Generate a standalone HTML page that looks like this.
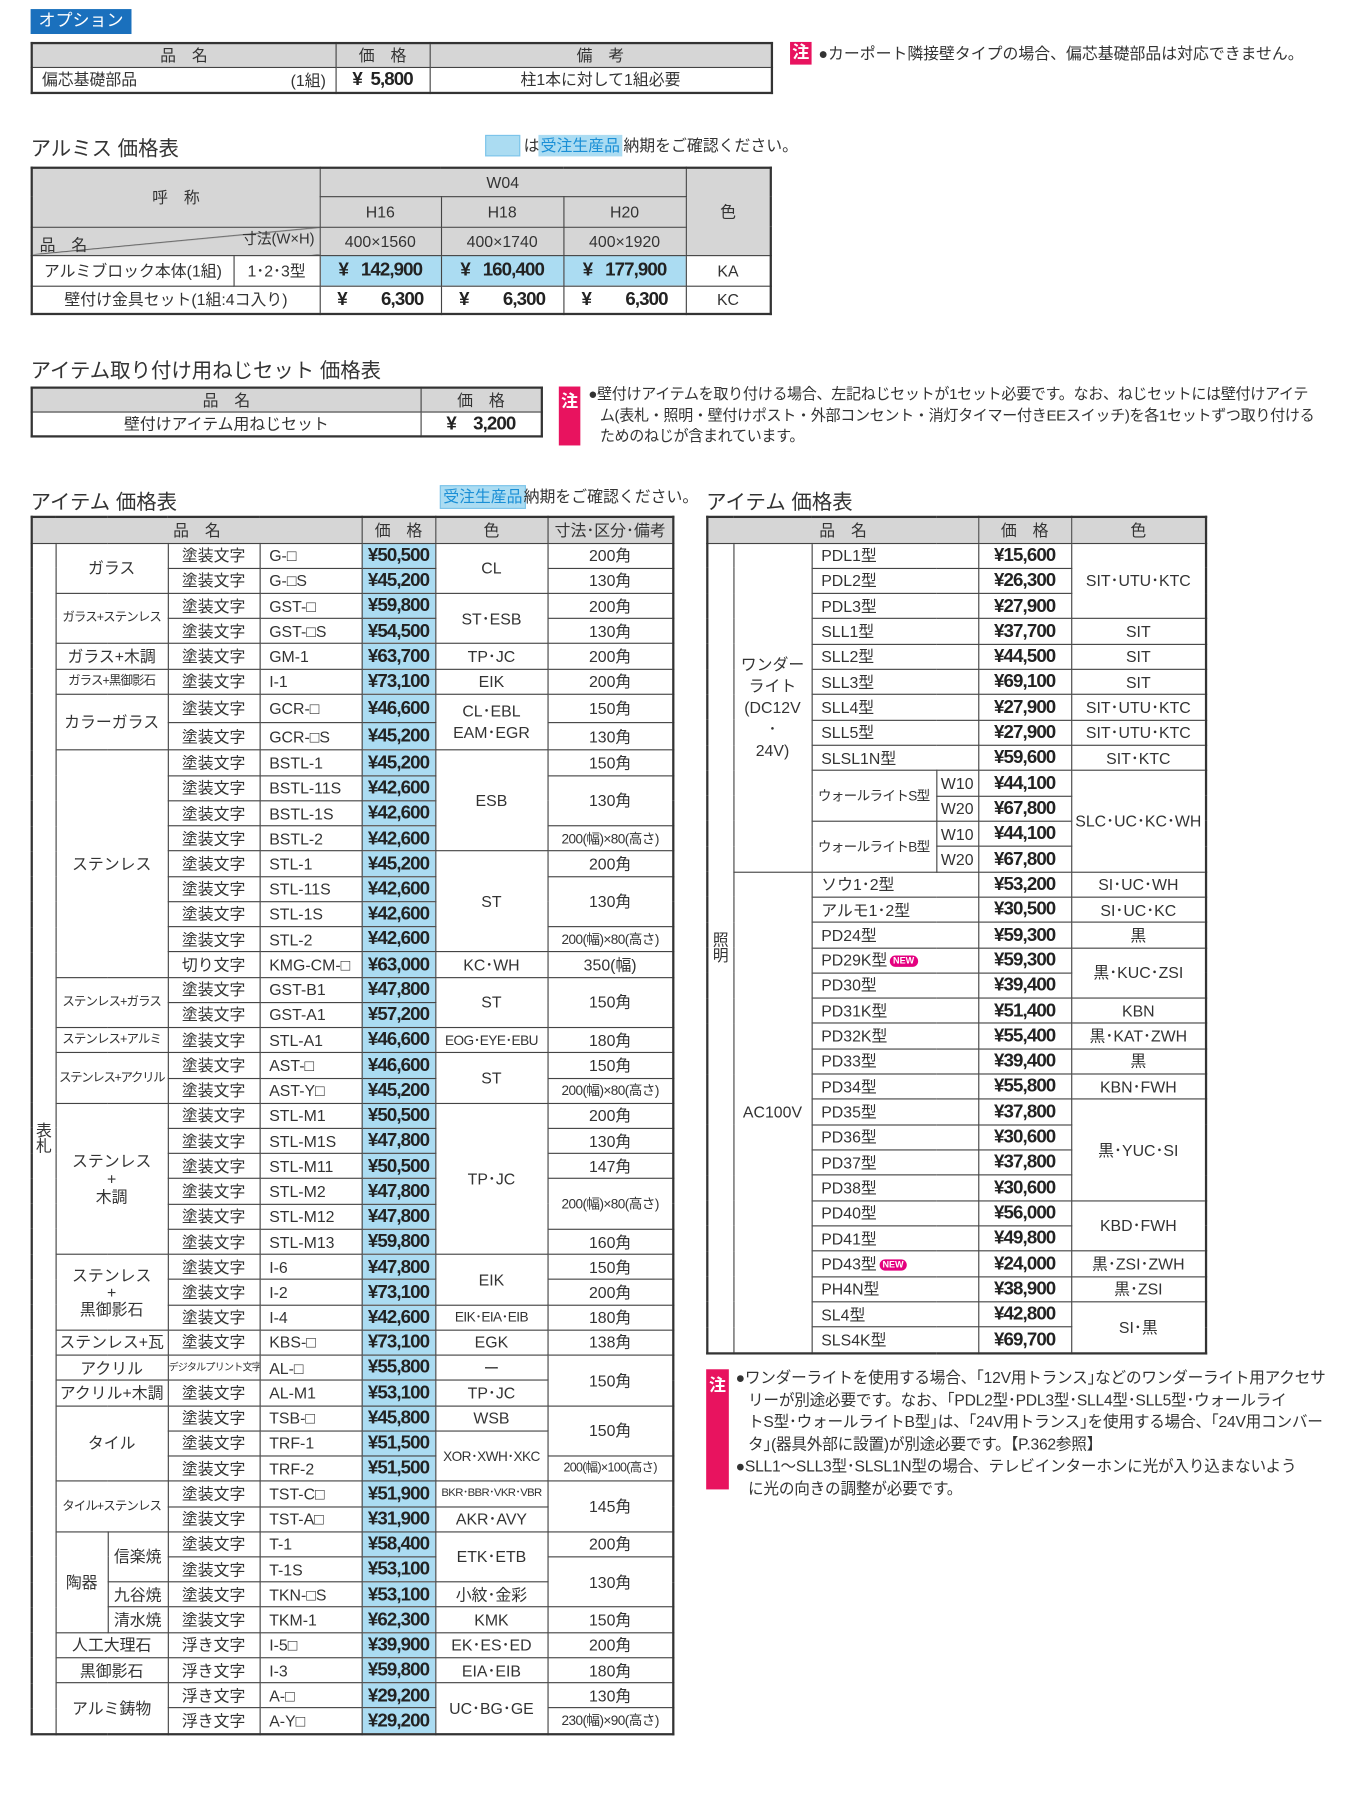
<!DOCTYPE html>
<html><head><meta charset="utf-8">
<style>
*{margin:0;padding:0;box-sizing:border-box}
html,body{width:1370px;height:1778px;background:#fff;overflow:hidden}
body{font-family:"Liberation Sans","Noto Sans CJK JP",sans-serif;color:#333}
#w{position:absolute;left:0;top:0;width:1222px;height:1586px;transform:scale(1.1335);transform-origin:0 0}
.a{position:absolute}
table{border-collapse:collapse;table-layout:fixed;position:absolute;border:2px solid #333}
td,th{border:1px solid #444;text-align:center;vertical-align:middle;font-size:14px;font-weight:normal;line-height:1;padding:0;white-space:nowrap;overflow:hidden}
th{background:#d6d6d6}
.p{font-weight:bold;font-size:16.5px;letter-spacing:-0.8px;color:#222}
.b{background:#abdcf2}
.l{text-align:left;padding-left:8px}
.t{font-size:18px;color:#333}
.pink{background:#e8135f;color:#fff;font-size:15px;font-weight:bold;text-align:center}
.n{font-size:14px;line-height:18.5px;color:#333;white-space:nowrap}
.new{display:inline-block;background:#e4007f;color:#fff;font-size:8px;font-weight:bold;border-radius:7px;padding:1px 3px;vertical-align:middle;margin-left:2px}
.sm{font-size:12px;letter-spacing:-0.5px}
.xs{font-size:11px;letter-spacing:-0.8px}
</style></head><body><div id="w">

<div class="a" style="left:27px;top:8px;width:89px;height:22px;background:#1a70bd;color:#fff;font-size:15px;line-height:22px;text-align:center">オプション</div>

<table style="left:27px;top:37px;width:655px;height:46px">
<colgroup><col style="width:268px"><col style="width:83px"><col></colgroup>
<tr style="height:21px"><th>品　名</th><th>価　格</th><th>備　考</th></tr>
<tr><td class="l" style="position:relative">偏芯基礎部品<span style="position:absolute;right:8px;top:4px">(1組)</span></td><td class="p">¥&nbsp; 5,800</td><td>柱1本に対して1組必要</td></tr>
</table>
<div class="a pink" style="left:697px;top:37px;width:19px;height:20px;line-height:20px">注</div>
<div class="a n" style="left:722px;top:38px">●カーポート隣接壁タイプの場合、偏芯基礎部品は対応できません。</div>

<div class="a t" style="left:27px;top:117px">アルミス 価格表</div>
<div class="a" style="left:428px;top:119px;width:31px;height:19px;background:#abdcf2;border:1px solid #7cc4ea"></div>
<div class="a n" style="left:462px;top:119px">は</div>
<div class="a n" style="left:475px;top:119px;background:#abdcf2;color:#1a8fd6;padding:0 2px">受注生産品</div>
<div class="a n" style="left:550px;top:119px">納期をご確認ください。</div>

<table style="left:27px;top:147px;width:654px;height:131px">
<colgroup><col style="width:178px"><col style="width:76px"><col style="width:107px"><col style="width:108px"><col style="width:108px"><col></colgroup>
<tr style="height:25px"><th colspan="2" rowspan="2" style="border-bottom:1px solid #444">呼　称</th><th colspan="3">W04</th><th rowspan="3">色</th></tr>
<tr style="height:27px"><th>H16</th><th>H18</th><th>H20</th></tr>
<tr style="height:25px"><th colspan="2" style="position:relative;background:#d6d6d6 linear-gradient(to bottom right,transparent 49%,#444 50%,transparent 52%)"><span style="position:absolute;left:6px;bottom:2px">品　名</span><span style="position:absolute;right:4px;top:3px;font-size:13px">寸法(W×H)</span></th><th>400×1560</th><th>400×1740</th><th>400×1920</th></tr>
<tr style="height:27px"><td>アルミブロック本体(1組)</td><td>1･2･3型</td><td class="p b">¥&nbsp;&nbsp; 142,900</td><td class="p b">¥&nbsp;&nbsp; 160,400</td><td class="p b">¥&nbsp;&nbsp; 177,900</td><td>KA</td></tr>
<tr><td colspan="2">壁付け金具セット(1組:4コ入り)</td><td class="p">¥&nbsp;&nbsp;&nbsp;&nbsp;&nbsp;&nbsp;&nbsp; 6,300</td><td class="p">¥&nbsp;&nbsp;&nbsp;&nbsp;&nbsp;&nbsp;&nbsp; 6,300</td><td class="p">¥&nbsp;&nbsp;&nbsp;&nbsp;&nbsp;&nbsp;&nbsp; 6,300</td><td>KC</td></tr>
</table>

<div class="a t" style="left:27px;top:313px">アイテム取り付け用ねじセット 価格表</div>
<table style="left:27px;top:341px;width:452px;height:45px">
<colgroup><col style="width:343px"><col></colgroup>
<tr style="height:21px"><th>品　名</th><th>価　格</th></tr>
<tr><td>壁付けアイテム用ねじセット</td><td class="p">¥&nbsp;&nbsp;&nbsp; 3,200</td></tr>
</table>
<div class="a pink" style="left:493px;top:341px;width:19px;height:52px;padding-top:2px">注</div>
<div class="a n" style="left:519px;top:339px;font-size:13.3px;letter-spacing:-0.3px">●壁付けアイテムを取り付ける場合、左記ねじセットが1セット必要です。なお、ねじセットには壁付けアイテ<br>&nbsp;&nbsp;&nbsp;ム(表札・照明・壁付けポスト・外部コンセント・消灯タイマー付きEEスイッチ)を各1セットずつ取り付ける<br>&nbsp;&nbsp;&nbsp;ためのねじが含まれています。</div>

<div class="a t" style="left:27px;top:429px">アイテム 価格表</div>
<div class="a n" style="left:388px;top:428px;background:#abdcf2;color:#1a8fd6;padding:0 2px;border:1px solid #7cc4ea">受注生産品</div>
<div class="a n" style="left:462px;top:429px">納期をご確認ください。</div>

<table style="left:27px;top:455px;width:568px;height:1076px">
<colgroup><col style="width:21px"><col style="width:46px"><col style="width:53px"><col style="width:81px"><col style="width:90px"><col style="width:65px"><col style="width:99px"><col></colgroup>
<tr style="height:23px"><th colspan="5">品　名</th><th>価　格</th><th>色</th><th>寸法･区分･備考</th></tr>
<tr><td rowspan="47" style="line-height:14px">表<br>札</td><td colspan="2" rowspan="2">ガラス</td><td>塗装文字</td><td class="l">G-□</td><td class="p b">¥50,500</td><td rowspan="2">CL</td><td>200角</td></tr>
<tr><td>塗装文字</td><td class="l">G-□S</td><td class="p b">¥45,200</td><td>130角</td></tr>
<tr><td colspan="2" rowspan="2" class="xs">ガラス+ステンレス</td><td>塗装文字</td><td class="l">GST-□</td><td class="p b">¥59,800</td><td rowspan="2">ST･ESB</td><td>200角</td></tr>
<tr><td>塗装文字</td><td class="l">GST-□S</td><td class="p b">¥54,500</td><td>130角</td></tr>
<tr><td colspan="2">ガラス+木調</td><td>塗装文字</td><td class="l">GM-1</td><td class="p b">¥63,700</td><td>TP･JC</td><td>200角</td></tr>
<tr><td colspan="2" class="xs">ガラス+黒御影石</td><td>塗装文字</td><td class="l">I-1</td><td class="p b">¥73,100</td><td>EIK</td><td>200角</td></tr>
<tr><td colspan="2" rowspan="2">カラーガラス</td><td>塗装文字</td><td class="l">GCR-□</td><td class="p b">¥46,600</td><td rowspan="2" style="line-height:19px">CL･EBL<br>EAM･EGR</td><td>150角</td></tr>
<tr><td>塗装文字</td><td class="l">GCR-□S</td><td class="p b">¥45,200</td><td>130角</td></tr>
<tr><td colspan="2" rowspan="9">ステンレス</td><td>塗装文字</td><td class="l">BSTL-1</td><td class="p b">¥45,200</td><td rowspan="4">ESB</td><td>150角</td></tr>
<tr><td>塗装文字</td><td class="l">BSTL-11S</td><td class="p b">¥42,600</td><td rowspan="2">130角</td></tr>
<tr><td>塗装文字</td><td class="l">BSTL-1S</td><td class="p b">¥42,600</td></tr>
<tr><td>塗装文字</td><td class="l">BSTL-2</td><td class="p b">¥42,600</td><td class="sm">200(幅)×80(高さ)</td></tr>
<tr><td>塗装文字</td><td class="l">STL-1</td><td class="p b">¥45,200</td><td rowspan="4">ST</td><td>200角</td></tr>
<tr><td>塗装文字</td><td class="l">STL-11S</td><td class="p b">¥42,600</td><td rowspan="2">130角</td></tr>
<tr><td>塗装文字</td><td class="l">STL-1S</td><td class="p b">¥42,600</td></tr>
<tr><td>塗装文字</td><td class="l">STL-2</td><td class="p b">¥42,600</td><td class="sm">200(幅)×80(高さ)</td></tr>
<tr><td>切り文字</td><td class="l">KMG-CM-□</td><td class="p b">¥63,000</td><td>KC･WH</td><td>350(幅)</td></tr>
<tr><td colspan="2" rowspan="2" class="xs">ステンレス+ガラス</td><td>塗装文字</td><td class="l">GST-B1</td><td class="p b">¥47,800</td><td rowspan="2">ST</td><td rowspan="2">150角</td></tr>
<tr><td>塗装文字</td><td class="l">GST-A1</td><td class="p b">¥57,200</td></tr>
<tr><td colspan="2" class="xs">ステンレス+アルミ</td><td>塗装文字</td><td class="l">STL-A1</td><td class="p b">¥46,600</td><td class="sm">EOG･EYE･EBU</td><td>180角</td></tr>
<tr><td colspan="2" rowspan="2" class="xs" style="letter-spacing:-1.2px">ステンレス+アクリル</td><td>塗装文字</td><td class="l">AST-□</td><td class="p b">¥46,600</td><td rowspan="2">ST</td><td>150角</td></tr>
<tr><td>塗装文字</td><td class="l">AST-Y□</td><td class="p b">¥45,200</td><td class="sm">200(幅)×80(高さ)</td></tr>
<tr><td colspan="2" rowspan="6" style="line-height:16px">ステンレス<br>+<br>木調</td><td>塗装文字</td><td class="l">STL-M1</td><td class="p b">¥50,500</td><td rowspan="6">TP･JC</td><td>200角</td></tr>
<tr><td>塗装文字</td><td class="l">STL-M1S</td><td class="p b">¥47,800</td><td>130角</td></tr>
<tr><td>塗装文字</td><td class="l">STL-M11</td><td class="p b">¥50,500</td><td>147角</td></tr>
<tr><td>塗装文字</td><td class="l">STL-M2</td><td class="p b">¥47,800</td><td rowspan="2" class="sm">200(幅)×80(高さ)</td></tr>
<tr><td>塗装文字</td><td class="l">STL-M12</td><td class="p b">¥47,800</td></tr>
<tr><td>塗装文字</td><td class="l">STL-M13</td><td class="p b">¥59,800</td><td>160角</td></tr>
<tr><td colspan="2" rowspan="3" style="line-height:15px">ステンレス<br>+<br>黒御影石</td><td>塗装文字</td><td class="l">I-6</td><td class="p b">¥47,800</td><td rowspan="2">EIK</td><td>150角</td></tr>
<tr><td>塗装文字</td><td class="l">I-2</td><td class="p b">¥73,100</td><td>200角</td></tr>
<tr><td>塗装文字</td><td class="l">I-4</td><td class="p b">¥42,600</td><td class="sm">EIK･EIA･EIB</td><td>180角</td></tr>
<tr><td colspan="2">ステンレス+瓦</td><td>塗装文字</td><td class="l">KBS-□</td><td class="p b">¥73,100</td><td>EGK</td><td>138角</td></tr>
<tr><td colspan="2">アクリル</td><td style="font-size:9px;letter-spacing:-0.8px">デジタルプリント文字</td><td class="l">AL-□</td><td class="p b">¥55,800</td><td>ー</td><td rowspan="2">150角</td></tr>
<tr><td colspan="2">アクリル+木調</td><td>塗装文字</td><td class="l">AL-M1</td><td class="p b">¥53,100</td><td>TP･JC</td></tr>
<tr><td colspan="2" rowspan="3">タイル</td><td>塗装文字</td><td class="l">TSB-□</td><td class="p b">¥45,800</td><td>WSB</td><td rowspan="2">150角</td></tr>
<tr><td>塗装文字</td><td class="l">TRF-1</td><td class="p b">¥51,500</td><td rowspan="2" class="sm">XOR･XWH･XKC</td></tr>
<tr><td>塗装文字</td><td class="l">TRF-2</td><td class="p b">¥51,500</td><td style="font-size:11px;letter-spacing:-0.6px">200(幅)×100(高さ)</td></tr>
<tr><td colspan="2" rowspan="2" class="xs">タイル+ステンレス</td><td>塗装文字</td><td class="l">TST-C□</td><td class="p b">¥51,900</td><td style="font-size:10px;letter-spacing:-0.6px">BKR･BBR･VKR･VBR</td><td rowspan="2">145角</td></tr>
<tr><td>塗装文字</td><td class="l">TST-A□</td><td class="p b">¥31,900</td><td>AKR･AVY</td></tr>
<tr><td rowspan="4">陶器</td><td rowspan="2">信楽焼</td><td>塗装文字</td><td class="l">T-1</td><td class="p b">¥58,400</td><td rowspan="2">ETK･ETB</td><td>200角</td></tr>
<tr><td>塗装文字</td><td class="l">T-1S</td><td class="p b">¥53,100</td><td rowspan="2">130角</td></tr>
<tr><td>九谷焼</td><td>塗装文字</td><td class="l">TKN-□S</td><td class="p b">¥53,100</td><td>小紋･金彩</td></tr>
<tr><td>清水焼</td><td>塗装文字</td><td class="l">TKM-1</td><td class="p b">¥62,300</td><td>KMK</td><td>150角</td></tr>
<tr><td colspan="2">人工大理石</td><td>浮き文字</td><td class="l">I-5□</td><td class="p b">¥39,900</td><td>EK･ES･ED</td><td>200角</td></tr>
<tr><td colspan="2">黒御影石</td><td>浮き文字</td><td class="l">I-3</td><td class="p b">¥59,800</td><td>EIA･EIB</td><td>180角</td></tr>
<tr><td colspan="2" rowspan="2">アルミ鋳物</td><td>浮き文字</td><td class="l">A-□</td><td class="p b">¥29,200</td><td rowspan="2">UC･BG･GE</td><td>130角</td></tr>
<tr><td>浮き文字</td><td class="l">A-Y□</td><td class="p b">¥29,200</td><td class="sm">230(幅)×90(高さ)</td></tr>
</table>

<div class="a t" style="left:623px;top:429px">アイテム 価格表</div>
<table style="left:623px;top:455px;width:442px;height:740px">
<colgroup><col style="width:23px"><col style="width:69px"><col style="width:110px"><col style="width:37px"><col style="width:82px"><col></colgroup>
<tr style="height:23px"><th colspan="4">品　名</th><th>価　格</th><th>色</th></tr>
<tr><td rowspan="32" style="line-height:14px">照<br>明</td><td rowspan="13" style="line-height:19px">ワンダー<br>ライト<br>(DC12V<br>･<br>24V)</td><td colspan="2" class="l">PDL1型</td><td class="p">¥15,600</td><td rowspan="3">SIT･UTU･KTC</td></tr>
<tr><td colspan="2" class="l">PDL2型</td><td class="p">¥26,300</td></tr>
<tr><td colspan="2" class="l">PDL3型</td><td class="p">¥27,900</td></tr>
<tr><td colspan="2" class="l">SLL1型</td><td class="p">¥37,700</td><td>SIT</td></tr>
<tr><td colspan="2" class="l">SLL2型</td><td class="p">¥44,500</td><td>SIT</td></tr>
<tr><td colspan="2" class="l">SLL3型</td><td class="p">¥69,100</td><td>SIT</td></tr>
<tr><td colspan="2" class="l">SLL4型</td><td class="p">¥27,900</td><td>SIT･UTU･KTC</td></tr>
<tr><td colspan="2" class="l">SLL5型</td><td class="p">¥27,900</td><td>SIT･UTU･KTC</td></tr>
<tr><td colspan="2" class="l">SLSL1N型</td><td class="p">¥59,600</td><td>SIT･KTC</td></tr>
<tr><td rowspan="2" class="l" style="font-size:12px;letter-spacing:-0.6px;padding-left:5px">ウォールライトS型</td><td>W10</td><td class="p">¥44,100</td><td rowspan="4">SLC･UC･KC･WH</td></tr>
<tr><td>W20</td><td class="p">¥67,800</td></tr>
<tr><td rowspan="2" class="l" style="font-size:12px;letter-spacing:-0.6px;padding-left:5px">ウォールライトB型</td><td>W10</td><td class="p">¥44,100</td></tr>
<tr><td>W20</td><td class="p">¥67,800</td></tr>
<tr><td rowspan="19">AC100V</td><td colspan="2" class="l">ソウ1･2型</td><td class="p">¥53,200</td><td>SI･UC･WH</td></tr>
<tr><td colspan="2" class="l">アルモ1･2型</td><td class="p">¥30,500</td><td>SI･UC･KC</td></tr>
<tr><td colspan="2" class="l">PD24型</td><td class="p">¥59,300</td><td>黒</td></tr>
<tr><td colspan="2" class="l">PD29K型<span class="new">NEW</span></td><td class="p">¥59,300</td><td rowspan="2">黒･KUC･ZSI</td></tr>
<tr><td colspan="2" class="l">PD30型</td><td class="p">¥39,400</td></tr>
<tr><td colspan="2" class="l">PD31K型</td><td class="p">¥51,400</td><td>KBN</td></tr>
<tr><td colspan="2" class="l">PD32K型</td><td class="p">¥55,400</td><td>黒･KAT･ZWH</td></tr>
<tr><td colspan="2" class="l">PD33型</td><td class="p">¥39,400</td><td>黒</td></tr>
<tr><td colspan="2" class="l">PD34型</td><td class="p">¥55,800</td><td>KBN･FWH</td></tr>
<tr><td colspan="2" class="l">PD35型</td><td class="p">¥37,800</td><td rowspan="4">黒･YUC･SI</td></tr>
<tr><td colspan="2" class="l">PD36型</td><td class="p">¥30,600</td></tr>
<tr><td colspan="2" class="l">PD37型</td><td class="p">¥37,800</td></tr>
<tr><td colspan="2" class="l">PD38型</td><td class="p">¥30,600</td></tr>
<tr><td colspan="2" class="l">PD40型</td><td class="p">¥56,000</td><td rowspan="2">KBD･FWH</td></tr>
<tr><td colspan="2" class="l">PD41型</td><td class="p">¥49,800</td></tr>
<tr><td colspan="2" class="l">PD43型<span class="new">NEW</span></td><td class="p">¥24,000</td><td>黒･ZSI･ZWH</td></tr>
<tr><td colspan="2" class="l">PH4N型</td><td class="p">¥38,900</td><td>黒･ZSI</td></tr>
<tr><td colspan="2" class="l">SL4型</td><td class="p">¥42,800</td><td rowspan="2">SI･黒</td></tr>
<tr><td colspan="2" class="l">SLS4K型</td><td class="p">¥69,700</td></tr>
</table>

<div class="a pink" style="left:623px;top:1208px;width:20px;height:106px;padding-top:3px">注</div>
<div class="a n" style="left:649px;top:1206px;line-height:19.5px;font-size:13.8px;letter-spacing:-0.2px">●ワンダーライトを使用する場合、｢12V用トランス｣などのワンダーライト用アクセサ<br>&nbsp;&nbsp;&nbsp;リーが別途必要です。なお、｢PDL2型･PDL3型･SLL4型･SLL5型･ウォールライ<br>&nbsp;&nbsp;&nbsp;トS型･ウォールライトB型｣は、｢24V用トランス｣を使用する場合、｢24V用コンバー<br>&nbsp;&nbsp;&nbsp;タ｣(器具外部に設置)が別途必要です。【P.362参照】<br>●SLL1～SLL3型･SLSL1N型の場合、テレビインターホンに光が入り込まないよう<br>&nbsp;&nbsp;&nbsp;に光の向きの調整が必要です。</div>

</div></body></html>
